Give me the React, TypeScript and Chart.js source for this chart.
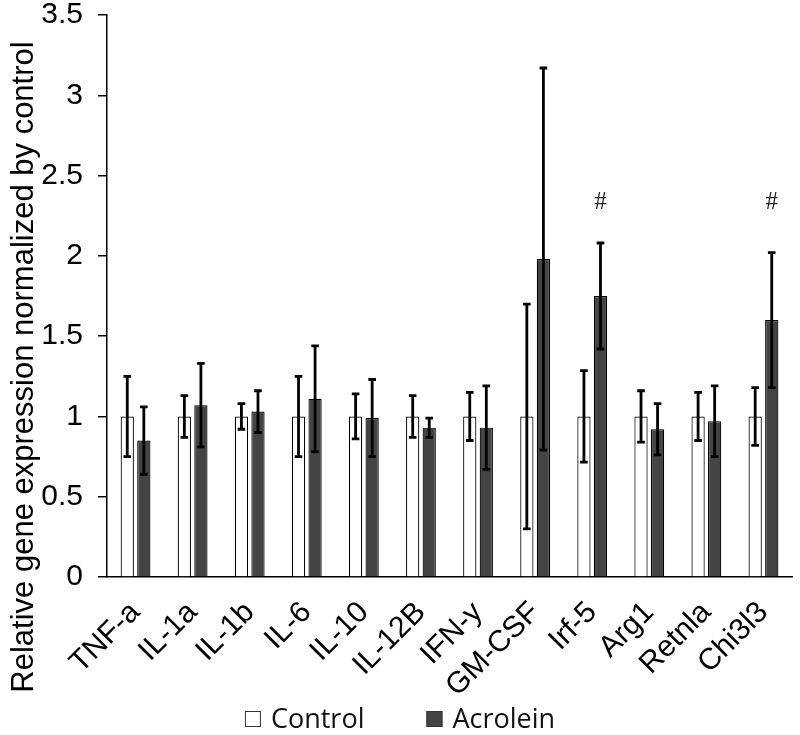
import React, { useEffect, useRef } from 'react';
import { Chart, registerables } from 'chart.js';

Chart.register(...registerables);

const categories = ['TNF-a', 'IL-1a', 'IL-1b', 'IL-6', 'IL-10', 'IL-12B', 'IFN-y', 'GM-CSF', 'Irf-5', 'Arg1', 'Retnla', 'Chi3l3'];
const controlValues = [1, 1, 1, 1, 1, 1, 1, 1, 1, 1, 1, 1];
const controlErrors = [0.25, 0.13, 0.08, 0.25, 0.14, 0.13, 0.15, 0.70, 0.285, 0.16, 0.15, 0.18];
const acroleinValues = [0.85, 1.07, 1.03, 1.11, 0.99, 0.93, 0.93, 1.98, 1.75, 0.92, 0.97, 1.60];
const acroleinErrors = [0.21, 0.26, 0.13, 0.33, 0.24, 0.06, 0.26, 1.19, 0.33, 0.16, 0.22, 0.42];
const significanceMarks = ['', '', '', '', '', '', '', '', '#', '', '', '#'];
const significanceLevel = [null, null, null, null, null, null, null, null, 2.335, null, null, 2.335];
const yTicks = [0, 0.5, 1, 1.5, 2, 2.5, 3, 3.5];
const yTickLabels = ['0', '0.5', '1', '1.5', '2', '2.5', '3', '3.5'];
const yTitle = 'Relative gene expression normalized by control';
const seriesNames = ['Control', 'Acrolein'];

export default function App() {
  const ref = useRef<HTMLCanvasElement>(null);

  useEffect(() => {
    document.body.style.margin = '0';
    const errors = [controlErrors, acroleinErrors];

    const errorBarPlugin = {
      id: 'errorBars',
      afterDatasetsDraw(chart: any) {
        const ctx = chart.ctx;
        const yScale = chart.scales.y;
        ctx.save();
        ctx.strokeStyle = '#000';
        ctx.lineWidth = 2.8;
        chart.data.datasets.forEach((ds: any, di: number) => {
          const meta = chart.getDatasetMeta(di);
          meta.data.forEach((bar: any, i: number) => {
            const v = ds.data[i];
            const e = errors[di][i];
            const x = bar.x;
            const yTop = yScale.getPixelForValue(v + e);
            const yBot = yScale.getPixelForValue(v - e);
            const cap = 3.8;
            ctx.beginPath();
            ctx.moveTo(x, yTop);
            ctx.lineTo(x, yBot);
            ctx.moveTo(x - cap, yTop);
            ctx.lineTo(x + cap, yTop);
            ctx.moveTo(x - cap, yBot);
            ctx.lineTo(x + cap, yBot);
            ctx.stroke();
          });
        });
        const meta = chart.getDatasetMeta(1);
        ctx.fillStyle = '#222';
        ctx.font = '25px "Liberation Serif"';
        ctx.textAlign = 'center';
        ctx.textBaseline = 'middle';
        significanceMarks.forEach((m, i) => {
          const lvl = significanceLevel[i];
          if (!m || lvl == null) return;
          ctx.fillText(m, meta.data[i].x, yScale.getPixelForValue(lvl));
        });
        ctx.restore();
      },
    };

    const annotationPlugin = {
      id: 'titleLegend',
      afterDraw(chart: any) {
        const ctx = chart.ctx;
        ctx.save();
        ctx.translate(33, 367);
        ctx.rotate(-Math.PI / 2);
        ctx.fillStyle = '#000';
        ctx.font = '31px "Liberation Sans"';
        ctx.textAlign = 'center';
        ctx.textBaseline = 'alphabetic';
        ctx.fillText(yTitle, 0, 0);
        ctx.restore();

        ctx.save();
        ctx.font = '27px "Open Sans"';
        ctx.textBaseline = 'middle';
        ctx.textAlign = 'left';
        const box = 16;
        const gap = 10;
        const itemGap = 62;
        const widths = seriesNames.map((n) => ctx.measureText(n).width);
        const total = box + gap + widths[0] + itemGap + box + gap + widths[1];
        let x = chart.width / 2 - total / 2;
        const cy = 719;
        chart.data.datasets.forEach((ds: any, i: number) => {
          ctx.fillStyle = ds.backgroundColor;
          ctx.fillRect(x, cy - box / 2, box, box);
          ctx.strokeStyle = '#333';
          ctx.lineWidth = 1;
          ctx.strokeRect(x + 0.5, cy - box / 2 + 0.5, box - 1, box - 1);
          ctx.fillStyle = '#111';
          ctx.fillText(ds.label, x + box + gap, cy + 1);
          x += box + gap + widths[i] + itemGap;
        });
        ctx.restore();
      },
    };

    const chart = new Chart(ref.current as HTMLCanvasElement, {
      type: 'bar',
      data: {
        labels: categories,
        datasets: [
          {
            label: seriesNames[0],
            data: controlValues,
            backgroundColor: '#ffffff',
            borderColor: '#000000',
            borderWidth: 1.2,
            categoryPercentage: 0.58,
            barPercentage: 0.8,
          },
          {
            label: seriesNames[1],
            data: acroleinValues,
            backgroundColor: '#444444',
            borderColor: '#000000',
            borderWidth: 1.2,
            categoryPercentage: 0.58,
            barPercentage: 0.8,
          },
        ],
      },
      options: {
        responsive: true,
        maintainAspectRatio: false,
        animation: false,
        layout: { padding: { top: 0, right: 8, bottom: 40, left: 0 } },
        plugins: {
          legend: { display: false },
          tooltip: { enabled: false },
        },
        scales: {
          x: {
            grid: { display: false },
            border: { display: true, color: '#000', width: 1.5 },
            ticks: {
              color: '#000',
              font: { family: '"Liberation Sans"', size: 30 },
              minRotation: 45,
              maxRotation: 45,
              autoSkip: false,
              padding: 10,
            },
            afterFit(scale: any) {
              scale.height = 118;
            },
          },
          y: {
            min: 0,
            max: 3.5,
            afterBuildTicks(scale: any) {
              scale.ticks = yTicks.map((v) => ({ value: v }));
            },
            grid: { drawOnChartArea: false, drawTicks: true, tickLength: 9, color: '#000', lineWidth: 1.5 },
            border: { display: true, color: '#000', width: 1.5 },
            ticks: {
              color: '#000',
              font: { family: '"Liberation Sans"', size: 30, lineHeight: 1 },
              padding: 15,
              callback: (_v: any, i: number) => yTickLabels[i],
            },
            afterFit(scale: any) {
              scale.width = 107;
              scale.paddingTop = 15;
              scale.paddingBottom = 0;
            },
          },
        },
      },
      plugins: [errorBarPlugin, annotationPlugin],
    });
    return () => chart.destroy();
  }, []);

  return (
    <div style={{ width: 800, height: 735, position: 'relative' }}>
      <canvas ref={ref} />
    </div>
  );
}
